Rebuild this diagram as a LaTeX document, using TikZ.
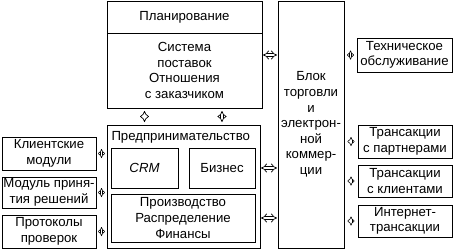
\documentclass[tikz,border=0pt]{standalone}
\usepackage{fontspec}
\setmainfont{Liberation Sans}
\usetikzlibrary{arrows.meta,positioning,calc}

\begin{document}
\begin{tikzpicture}[x=1pt, y=-1pt,
    box/.style={draw, line width=0.9pt, outer sep=0pt, inner sep=0.5pt, align=center, font=\fontsize{13.2}{15.6}\selectfont},
    dbl/.style={double, double distance=2.4pt, line width=0.7pt, {Implies}-{Implies}, shorten >=1pt, shorten <=1pt},
    tiny/.style={double, double distance=1.8pt, line width=0.6pt, {Implies}-{Implies}}
]
\useasboundingbox (0,0) rectangle (454,250);
\node[box, minimum width=155pt, minimum height=32pt, anchor=north west] (plan) at (107,1) {Планирование};
\node[box, minimum width=155pt, minimum height=75pt, below=0pt of plan] (supply) {Система\\поставок\\Отношения\\с заказчиком};
\node[box, minimum width=153pt, minimum height=123pt, anchor=north west] (ent) at (107,125) {};
\node[box, draw=none, anchor=west] (enttitle) at ([shift={(4pt,-12pt)}]ent.north west) {Предпринимательство};
\node[box, minimum width=67pt, minimum height=40pt, anchor=north west] (crm) at ([shift={(4pt,-23pt)}]ent.north west) {\itshape CRM};
\node[box, minimum width=66pt, minimum height=40pt, right=11pt of crm] (biz) {Бизнес};
\node[box, minimum width=144pt, minimum height=48pt, below=6pt of crm.south west, anchor=north west] (prod) {Производство\\Распределение\\Финансы};
\node[box, minimum width=66pt, minimum height=247pt, anchor=north west] (trade) at (278,1) {Блок\\торговли\\и\\электрон-\\ной\\коммер-\\ции};

\node[box, minimum width=94pt, minimum height=33pt, anchor=north west] (cli) at (2,137) {Клиентские\\модули};
\node[box, minimum width=94pt, minimum height=31pt, below=7pt of cli] (dec) {Модуль приня-\\тия решений};
\node[box, minimum width=94pt, minimum height=33pt, below=7pt of dec] (prot) {Протоколы\\проверок};

\node[box, minimum width=95pt, minimum height=34pt, anchor=north west] (tech) at (357,38) {Техническое\\обслуживание};
\node[box, minimum width=94pt, minimum height=33pt, anchor=north west] (tp) at (358,125) {Трансакции\\с партнерами};
\node[box, minimum width=94pt, minimum height=32pt, below=7pt of tp] (tc) {Трансакции\\с клиентами};
\node[box, minimum width=94pt, minimum height=32pt, below=8pt of tc] (inet) {Интернет-\\трансакции};

\draw[dbl, shorten >=3pt, shorten <=3pt] (supply.south -| crm.center) -- (ent.north -| crm.center);
\draw[dbl, shorten >=3pt, shorten <=3pt] (supply.south -| biz.center) -- (ent.north -| biz.center);
\draw[dbl] ([yshift=15.5pt]supply.east) -- ([yshift=15.5pt]supply.east -| trade.west);
\draw[dbl] (ent.east |- biz.center) -- (trade.west |- biz.center);
\draw[dbl] (ent.east |- prod.center) -- (trade.west |- prod.center);

\foreach \n in {cli,dec,prot} {
  \coordinate (m\n) at ($(\n.east)!.5!(\n.east -| ent.west)$);
  \draw[tiny] ([yshift=4.5pt]m\n) -- ([yshift=-4.5pt]m\n);
}
\foreach \n in {tech,tp,tc,inet} {
  \coordinate (m\n) at ($(\n.west)!.5!(\n.west -| trade.east)$);
  \draw[tiny] ([yshift=4.5pt]m\n) -- ([yshift=-4.5pt]m\n);
}
\end{tikzpicture}
\end{document}
